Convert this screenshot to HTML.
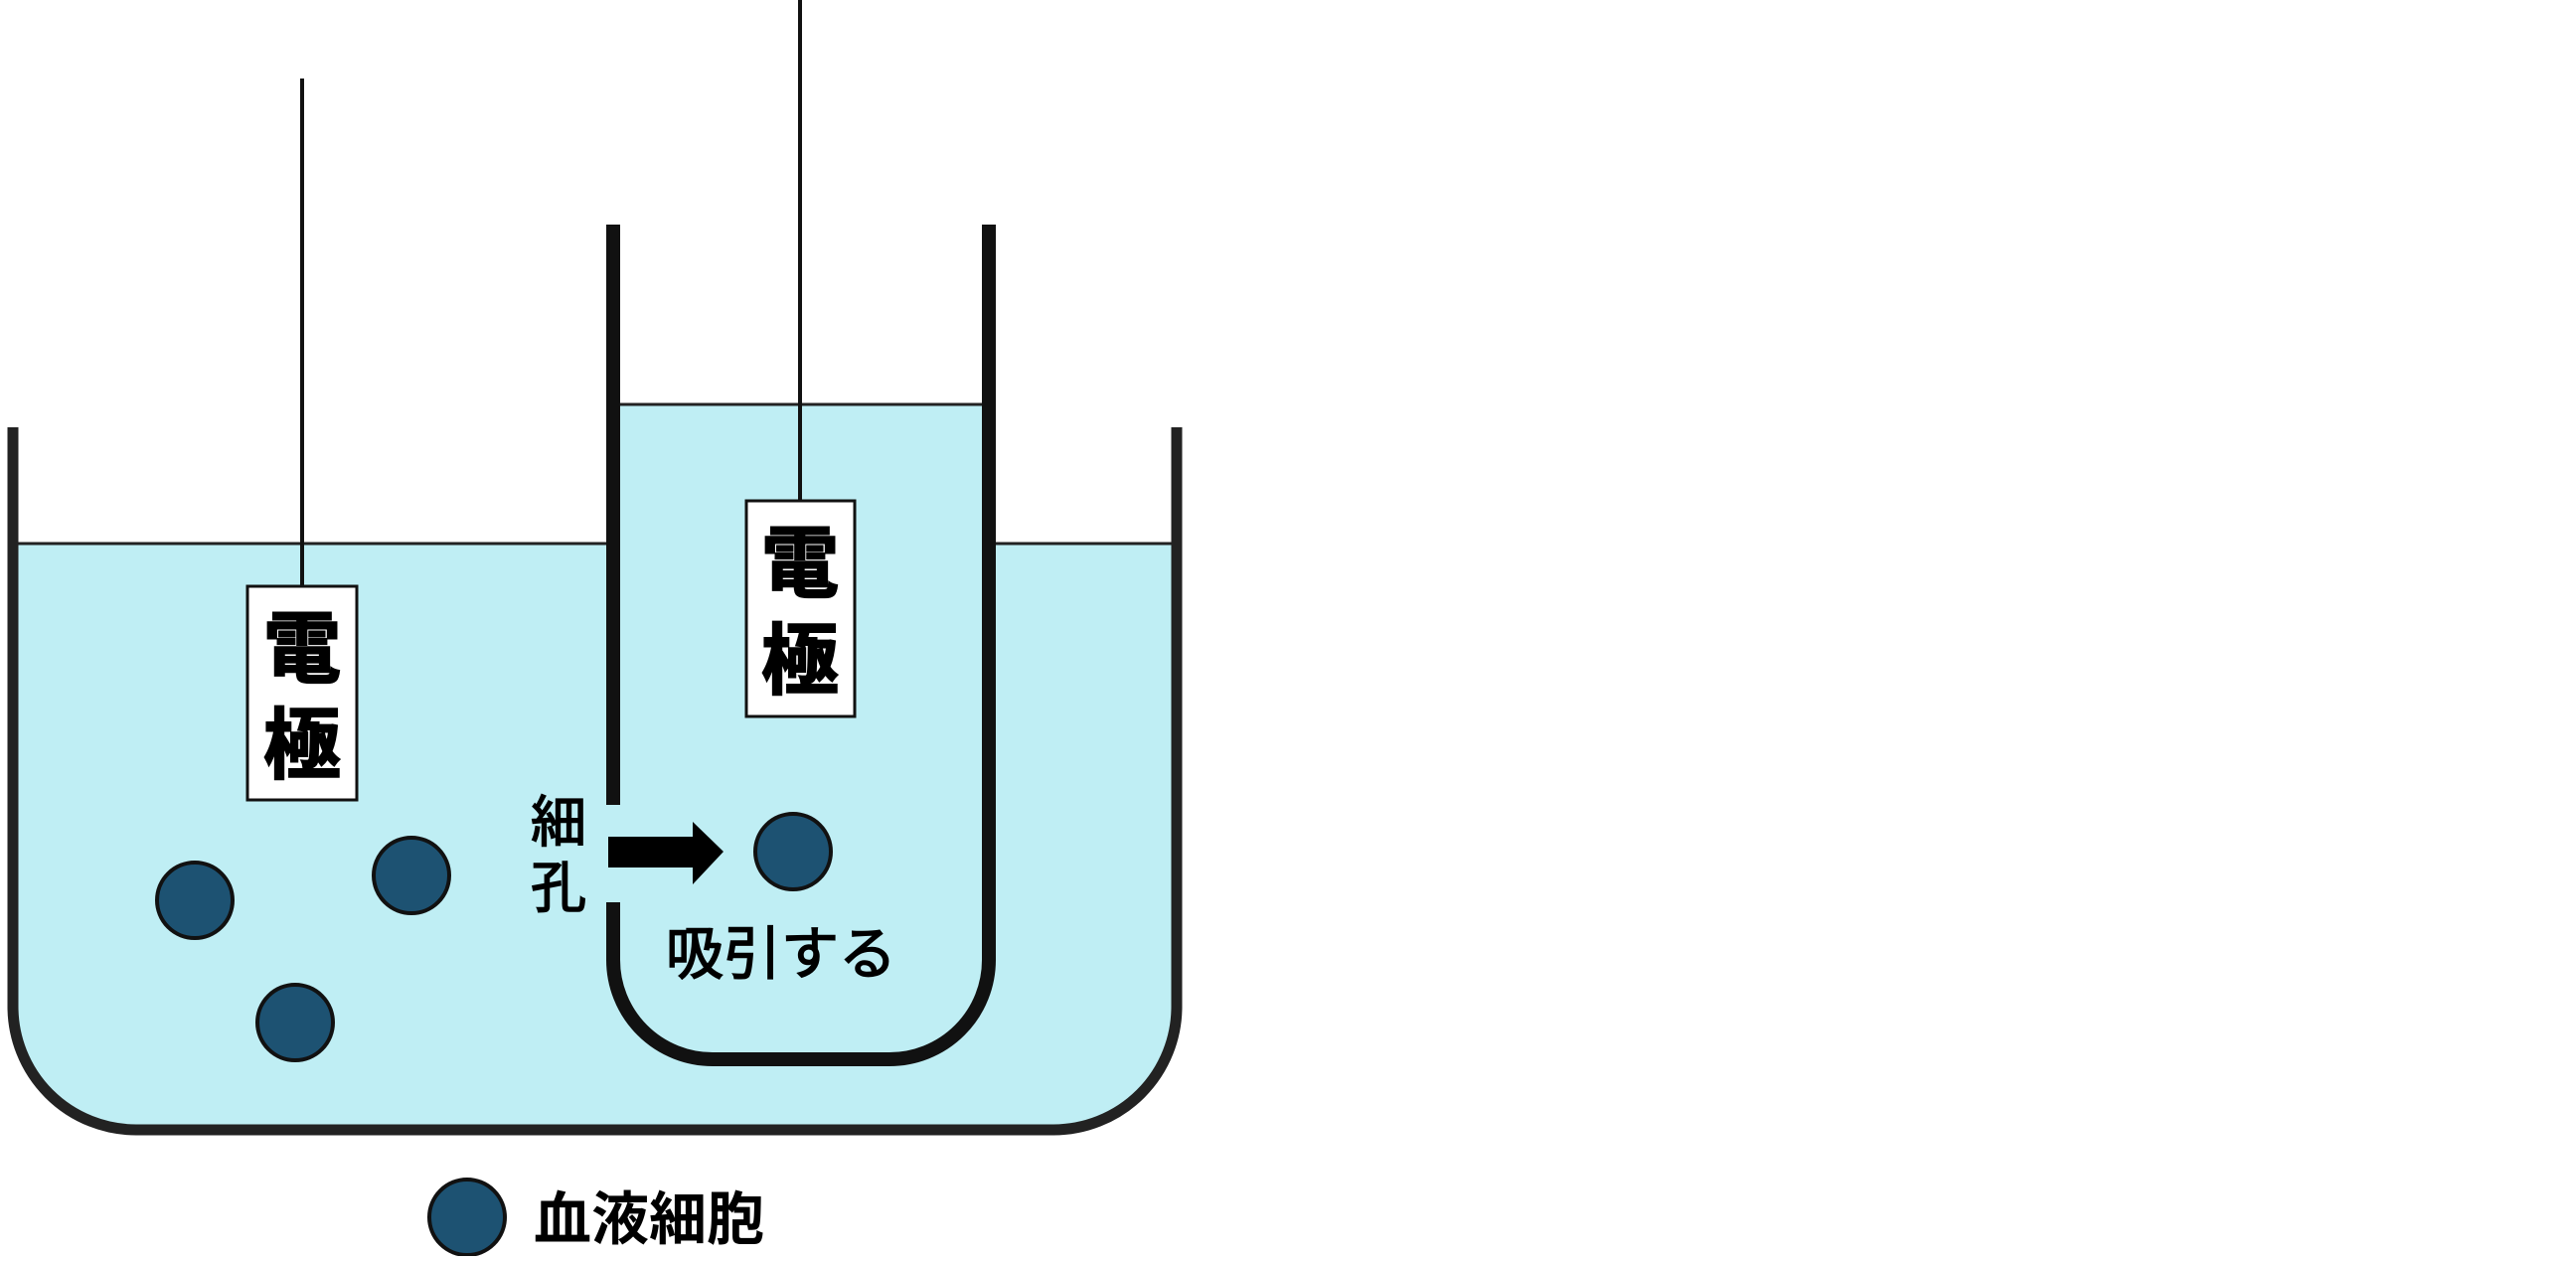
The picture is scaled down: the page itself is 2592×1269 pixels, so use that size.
<!DOCTYPE html>
<html><head><meta charset="utf-8"><style>
html,body{margin:0;padding:0;background:#fff;}
svg text{font-family:"Liberation Sans","Noto Sans CJK JP",sans-serif;}
</style></head><body>
<svg width="2592" height="1264" viewBox="0 0 2592 1264" xmlns="http://www.w3.org/2000/svg">
<path d="M13 547 H1184 V1013 A124 124 0 0 1 1060 1137 H137 A124 124 0 0 1 13 1013 Z" fill="#bfeef4"/>
<line x1="13" y1="547" x2="1184" y2="547" stroke="#222" stroke-width="3"/>
<path d="M13 430 V1013 A124 124 0 0 0 137 1137 H1060 A124 124 0 0 0 1184 1013 V430" fill="none" stroke="#222" stroke-width="11"/>
<path d="M618 407 H994 V966 A100 100 0 0 1 894 1066 H718 A100 100 0 0 1 618 966 Z" fill="#bfeef4"/>
<line x1="618" y1="407" x2="994" y2="407" stroke="#222" stroke-width="3"/>
<path d="M617 226 V810" fill="none" stroke="#111" stroke-width="14"/>
<path d="M617 908 V966 A100 100 0 0 0 717 1066 H895 A100 100 0 0 0 995 966 V226" fill="none" stroke="#111" stroke-width="14"/>
<line x1="304" y1="79" x2="304" y2="590" stroke="#111" stroke-width="4"/>
<rect x="249" y="590" width="110" height="215" fill="#fff" stroke="#111" stroke-width="3"/>
<text x="304" y="680" font-size="78" font-weight="bold" text-anchor="middle" stroke="#000" stroke-width="2">電</text>
<text x="304" y="777" font-size="78" font-weight="bold" text-anchor="middle" stroke="#000" stroke-width="2">極</text>
<line x1="805" y1="0" x2="805" y2="504" stroke="#111" stroke-width="4"/>
<rect x="751" y="504" width="109" height="217" fill="#fff" stroke="#111" stroke-width="3"/>
<text x="805" y="594" font-size="78" font-weight="bold" text-anchor="middle" stroke="#000" stroke-width="2">電</text>
<text x="805" y="692" font-size="78" font-weight="bold" text-anchor="middle" stroke="#000" stroke-width="2">極</text>
<path d="M612 842 H697 V827 L728 857 L697 890 V873 H612 Z" fill="#000"/>
<text x="562" y="847" font-size="56" text-anchor="middle" stroke="#000" stroke-width="1.5">細</text>
<text x="562" y="913" font-size="56" text-anchor="middle" stroke="#000" stroke-width="1.5">孔</text>
<text x="786" y="980" font-size="58" text-anchor="middle" stroke="#000" stroke-width="1.5">吸引する</text>
<g fill="#1d5272" stroke="#111" stroke-width="4">
<circle cx="196" cy="906" r="38"/>
<circle cx="414" cy="881" r="38"/>
<circle cx="297" cy="1029" r="38"/>
<circle cx="798" cy="857" r="38"/>
<circle cx="470" cy="1225" r="38"/>
</g>
<text x="537" y="1247" font-size="58" font-weight="bold">血液細胞</text>
</svg>
</body></html>
